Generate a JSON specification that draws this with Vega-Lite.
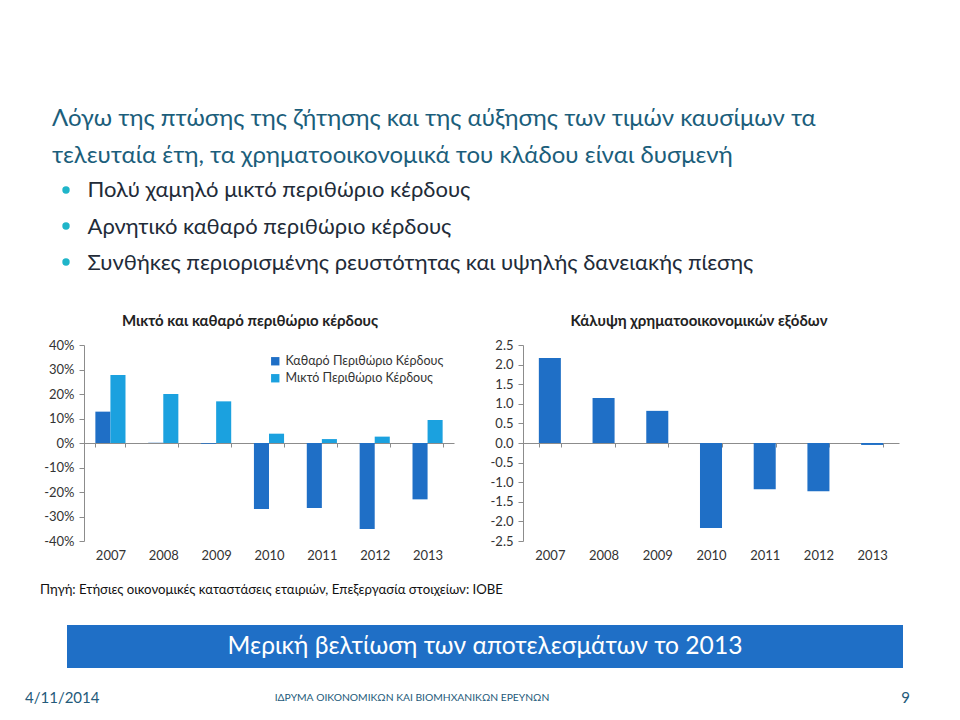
{
  "$schema": "https://vega.github.io/schema/vega-lite/v6.json",
  "background": "white",
  "padding": {"left": 25, "top": 107, "right": 0, "bottom": 0},
  "autosize": {"type": "pad"},
  "config": {"font": "Lato", "view": {"stroke": null}},
  "title": {
    "text": ["Λόγω της πτώσης της ζήτησης και της αύξησης των τιμών καυσίμων τα", "τελευταία έτη, τα χρηματοοικονομικά του κλάδου είναι δυσμενή"],
    "anchor": "start", "frame": "group", "dx": -32, "fontSize": 24, "fontWeight": "normal",
    "color": "#1B5E7B", "lineHeight": 37, "offset": 4
  },
  "align": "none",
  "spacing": 20,
  "resolve": {"scale": {"color": "independent"}, "legend": {"color": "independent"}},
  "vconcat": [
    {
      "width": 6, "height": 122,
      "data": {"values": [
        {"bullet": "Πολύ χαμηλό μικτό περιθώριο κέρδους"},
        {"bullet": "Αρνητικό καθαρό περιθώριο κέρδους"},
        {"bullet": "Συνθήκες περιορισμένης ρευστότητας και υψηλής δανειακής πίεσης"}
      ]},
      "mark": {"type": "circle", "color": "#1FB5C9", "size": 55, "opacity": 1, "xOffset": -21},
      "encoding": {
        "y": {"field": "bullet", "type": "nominal", "sort": null,
          "scale": {"type": "point", "padding": 0.694, "align": 0.36},
          "axis": {"orient": "right", "title": null, "domain": false, "ticks": false, "grid": false,
            "labelPadding": -3, "labelFontSize": 22, "labelColor": "#222B38", "labelLimit": 0}}
      }
    },
    {
      "spacing": 36,
      "resolve": {"scale": {"color": "independent"}, "legend": {"color": "independent"}},
      "hconcat": [
        {
          "title": {"text": "Μικτό και καθαρό περιθώριο κέρδους", "fontSize": 15, "fontWeight": "bold", "color": "#222222", "anchor": "middle", "frame": "group", "dx": -19, "offset": 10},
          "width": 370, "height": 196,
          "data": {"values": [
            {"year": "2007", "series": "Καθαρό Περιθώριο Κέρδους", "value": 0.128},
            {"year": "2007", "series": "Μικτό Περιθώριο Κέρδους", "value": 0.278},
            {"year": "2008", "series": "Καθαρό Περιθώριο Κέρδους", "value": 0.001},
            {"year": "2008", "series": "Μικτό Περιθώριο Κέρδους", "value": 0.200},
            {"year": "2009", "series": "Καθαρό Περιθώριο Κέρδους", "value": -0.003},
            {"year": "2009", "series": "Μικτό Περιθώριο Κέρδους", "value": 0.170},
            {"year": "2010", "series": "Καθαρό Περιθώριο Κέρδους", "value": -0.269},
            {"year": "2010", "series": "Μικτό Περιθώριο Κέρδους", "value": 0.038},
            {"year": "2011", "series": "Καθαρό Περιθώριο Κέρδους", "value": -0.265},
            {"year": "2011", "series": "Μικτό Περιθώριο Κέρδους", "value": 0.016},
            {"year": "2012", "series": "Καθαρό Περιθώριο Κέρδους", "value": -0.351},
            {"year": "2012", "series": "Μικτό Περιθώριο Κέρδους", "value": 0.026},
            {"year": "2013", "series": "Καθαρό Περιθώριο Κέρδους", "value": -0.230},
            {"year": "2013", "series": "Μικτό Περιθώριο Κέρδους", "value": 0.094}
          ]},
          "mark": {"type": "bar"},
          "encoding": {
            "x": {"field": "year", "type": "ordinal",
              "scale": {"paddingInner": 0.43, "paddingOuter": 0.215},
              "axis": {"title": null, "orient": "bottom", "offset": -98, "labelAngle": 0, "labelPadding": 102,
                "tickBand": "extent", "tickSize": 4, "domainColor": "#8C8C8C", "tickColor": "#8C8C8C",
                "labelFontSize": 13, "labelColor": "#333333"}},
            "xOffset": {"field": "series", "type": "nominal", "sort": ["Καθαρό Περιθώριο Κέρδους", "Μικτό Περιθώριο Κέρδους"], "scale": {"paddingInner": 0, "paddingOuter": 0}},
            "y": {"field": "value", "type": "quantitative",
              "scale": {"domain": [-0.4, 0.4], "nice": false, "zero": true},
              "axis": {"title": null, "grid": false, "values": [-0.4, -0.3, -0.2, -0.1, 0, 0.1, 0.2, 0.3, 0.4],
                "labelExpr": "replace(format(datum.value, '.0%'), '−', '-')",
                "domainColor": "#8C8C8C", "tickColor": "#8C8C8C", "tickSize": 5, "labelPadding": 5,
                "labelFontSize": 13, "labelColor": "#333333", "minExtent": 59, "maxExtent": 59}},
            "color": {"field": "series", "type": "nominal",
              "scale": {"domain": ["Καθαρό Περιθώριο Κέρδους", "Μικτό Περιθώριο Κέρδους"], "range": ["#1F6FC6", "#1BA1DF"]},
              "legend": {"title": null, "orient": "top-right", "offset": 10, "symbolType": "square", "symbolSize": 70,
                "symbolStrokeWidth": 0, "labelFontSize": 12.5, "labelColor": "#333333", "rowPadding": 4, "labelLimit": 0}}
          }
        },
        {
          "title": {"text": "Κάλυψη χρηματοοικονομικών εξόδων", "fontSize": 15, "fontWeight": "bold", "color": "#222222", "anchor": "middle", "frame": "group", "dx": -12, "offset": 10},
          "width": 376, "height": 196,
          "data": {"values": [
            {"year": "2007", "value": 2.17},
            {"year": "2008", "value": 1.15},
            {"year": "2009", "value": 0.82},
            {"year": "2010", "value": -2.17},
            {"year": "2011", "value": -1.18},
            {"year": "2012", "value": -1.23},
            {"year": "2013", "value": -0.05}
          ]},
          "mark": {"type": "bar", "color": "#1F6FC6"},
          "encoding": {
            "x": {"field": "year", "type": "ordinal",
              "scale": {"paddingInner": 0.59, "paddingOuter": 0.295},
              "axis": {"title": null, "orient": "bottom", "offset": -98, "labelAngle": 0, "labelPadding": 102,
                "tickBand": "extent", "tickSize": 4, "domainColor": "#8C8C8C", "tickColor": "#8C8C8C",
                "labelFontSize": 13, "labelColor": "#333333"}},
            "y": {"field": "value", "type": "quantitative",
              "scale": {"domain": [-2.5, 2.5], "nice": false},
              "axis": {"title": null, "grid": false, "values": [-2.5, -2, -1.5, -1, -0.5, 0, 0.5, 1, 1.5, 2, 2.5],
                "labelExpr": "replace(format(datum.value, '.1f'), '−', '-')",
                "domainColor": "#8C8C8C", "tickColor": "#8C8C8C", "tickSize": 5, "labelPadding": 5,
                "labelFontSize": 13, "labelColor": "#333333", "minExtent": 33, "maxExtent": 33}}
          }
        }
      ]
    },
    {
      "width": 836, "height": 43,
      "title": {"text": "Πηγή: Ετήσιες οικονομικές καταστάσεις εταιριών, Επεξεργασία στοιχείων: ΙΟΒΕ",
        "anchor": "start", "frame": "group", "dx": -44, "fontSize": 13.2, "fontWeight": "normal", "color": "#111111", "offset": 28},
      "data": {"values": [{"label": "Μερική βελτίωση των αποτελεσμάτων το 2013"}]},
      "layer": [
        {"mark": {"type": "rect", "color": "#1F6FC6", "width": 836, "xOffset": -435}, "encoding": {}},
        {"mark": {"type": "text", "fontSize": 24.6, "color": "white", "dx": -17}, "encoding": {"text": {"field": "label"}}}
      ]
    },
    {
      "width": 826, "height": 20,
      "data": {"values": [
        {"label": "4/11/2014"},
        {"label": "ΙΔΡΥΜΑ ΟΙΚΟΝΟΜΙΚΩΝ ΚΑΙ ΒΙΟΜΗΧΑΝΙΚΩΝ ΕΡΕΥΝΩΝ"},
        {"label": "9"}
      ]},
      "encoding": {
        "x": {"field": "label", "type": "nominal",
          "scale": {"type": "point", "padding": 0, "domain": ["4/11/2014", "ΙΔΡΥΜΑ ΟΙΚΟΝΟΜΙΚΩΝ ΚΑΙ ΒΙΟΜΗΧΑΝΙΚΩΝ ΕΡΕΥΝΩΝ", "9"]},
          "axis": null},
        "text": {"field": "label"}
      },
      "layer": [
        {"transform": [{"filter": "datum.label == '4/11/2014'"}], "mark": {"type": "text", "align": "left", "fontSize": 15, "dx": -59, "color": "#245A7A"}},
        {"transform": [{"filter": "datum.label == '9'"}], "mark": {"type": "text", "align": "right", "fontSize": 15, "color": "#245A7A"}},
        {"transform": [{"filter": "datum.label != '9' && datum.label != '4/11/2014'"}], "mark": {"type": "text", "align": "center", "fontSize": 10.3, "dx": -85, "color": "#245A7A"}}
      ]
    }
  ]
}
